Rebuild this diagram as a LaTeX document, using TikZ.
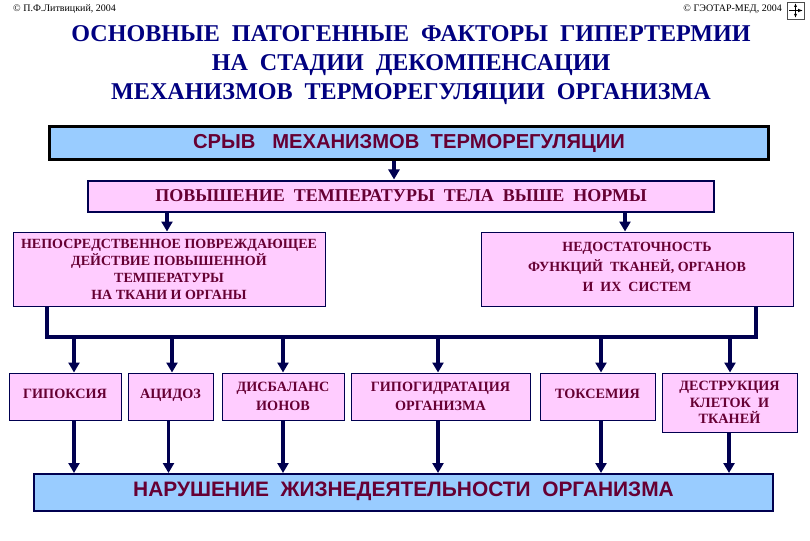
\documentclass[tikz,border=0pt]{standalone}
\usepackage{fontspec}
\setmainfont{Liberation Serif}
\setsansfont{Liberation Sans}
\usetikzlibrary{arrows.meta}
\definecolor{titlecol}{HTML}{000080}
\definecolor{textcol}{HTML}{660033}
\definecolor{linecol}{HTML}{000050}
\definecolor{pinkfill}{HTML}{FFCCFF}
\definecolor{bluefill}{HTML}{99CCFF}
\tikzset{
  titletext/.style = {text=titlecol, font=\fontsize{24.1}{29}\selectfont\bfseries, align=center},
  creditnode/.style = {font=\fontsize{10}{12}\selectfont, inner sep=0pt},
  boxnode/.style = {draw=linecol, line width=1pt, fill=pinkfill, text=textcol,
    font=\fontsize{14.2}{18.5}\selectfont\bfseries, align=center, inner sep=0pt,
    minimum width=#1, minimum height=47pt},
  onelinenode/.style = {text height=9.5pt, text depth=6pt},
  bignode/.style = {fill=bluefill, text=textcol, font=\sffamily\bfseries, align=center,
    inner sep=0pt},
  feed/.style = {line width=3.5pt, draw=linecol, -{Triangle[length=10pt, width=11pt]}},
  bus/.style = {line width=4pt, draw=linecol, line join=miter},
}
\begin{document}
\begin{tikzpicture}[
    x = 1pt,
    y = -1pt,
    ]
    \useasboundingbox (0,0) rectangle (810,540);
    % credits
    \node[creditnode, anchor=west] (author) at (13,9.5) {© П.Ф.Литвицкий, 2004};
    \node[creditnode, anchor=east] (publisher) at (782,9.5) {© ГЭОТАР-МЕД, 2004};
    % nav icon
    \draw[line width=0.6pt, draw=black!70] (787,2) rectangle (804,19);
    \draw[line width=1pt, -{Latex[length=5pt]}] (789,10.5) -- (803,10.5);
    \draw[line width=0.8pt, <->, >={Latex[length=4pt]}] (795.5,3) -- (795.5,18);
    % title
    \node[titletext] (title) at (411,65.5)
    {ОСНОВНЫЕ\ \ ПАТОГЕННЫЕ\ \ ФАКТОРЫ\ \ ГИПЕРТЕРМИИ\\
      НА\ \ СТАДИИ\ \ ДЕКОМПЕНСАЦИИ\\
      МЕХАНИЗМОВ\ \ ТЕРМОРЕГУЛЯЦИИ\ \ ОРГАНИЗМА};
    % upper blocks
    \node[bignode, draw=black, line width=3pt, minimum width=719pt, minimum height=33pt,
      font=\sffamily\bfseries\fontsize{20.2}{24}\selectfont] (failure) at (409,143.5)
    {СРЫВ\ \ \ МЕХАНИЗМОВ\ \ ТЕРМОРЕГУЛЯЦИИ};
    \node[boxnode=626pt, line width=2pt, minimum height=31pt, font=\fontsize{18}{20}\selectfont\bfseries]
    (fever) at (401,196) {ПОВЫШЕНИЕ\ \ ТЕМПЕРАТУРЫ\ \ ТЕЛА\ \ ВЫШЕ\ \ НОРМЫ};
    \node[boxnode=312pt, minimum height=74pt, font=\fontsize{14}{17}\selectfont\bfseries]
    (direct) at (169,269)
    {НЕПОСРЕДСТВЕННОЕ ПОВРЕЖДАЮЩЕЕ\\ ДЕЙСТВИЕ ПОВЫШЕННОЙ\\ ТЕМПЕРАТУРЫ\\ НА ТКАНИ И ОРГАНЫ};
    \node[boxnode=312pt, minimum height=74pt, text depth=4pt, font=\fontsize{14}{20}\selectfont\bfseries]
    (deficit) at (637,269)
    {НЕДОСТАТОЧНОСТЬ\\ ФУНКЦИЙ\ \ ТКАНЕЙ, ОРГАНОВ\\ И\ \ ИХ\ \ СИСТЕМ};
    % small blocks
    \node[boxnode=112pt, onelinenode] (hypoxia) at (65,396.5) {ГИПОКСИЯ};
    \node[boxnode=85pt, onelinenode] (acidosis) at (170.5,396.5) {АЦИДОЗ};
    \node[boxnode=122pt] (ions) at (283,396.5) {ДИСБАЛАНС\\ ИОНОВ};
    \node[boxnode=179pt] (hypohyd) at (440.5,396.5) {ГИПОГИДРАТАЦИЯ\\ ОРГАНИЗМА};
    \node[boxnode=115pt, onelinenode] (toxemia) at (597.5,396.5) {ТОКСЕМИЯ};
    \node[boxnode=135pt, minimum height=59pt, font=\fontsize{14.2}{16.5}\selectfont\bfseries]
    (destruct) at (729.5,402.5) {ДЕСТРУКЦИЯ\\ КЛЕТОК\ \ И\\ ТКАНЕЙ};
    % bottom block
    \node[bignode, draw=linecol, line width=2pt, minimum width=739pt, minimum height=37pt,
      text height=14pt, text depth=7pt, font=\sffamily\bfseries\fontsize{20.9}{24}\selectfont]
    (vital) at (403.5,492.5) {НАРУШЕНИЕ\ \ ЖИЗНЕДЕЯТЕЛЬНОСТИ\ \ ОРГАНИЗМА};
    % bus
    \coordinate (busl) at (47,336.5);
    \coordinate (busr) at (756,336.5);
    \draw[bus] (busl |- direct.south) -- (busl) -- (busr) -- (busr |- deficit.south);
    % arrows
    \draw[feed] (failure.south -| 394,0) -- (fever.north -| 394,0);
    \draw[feed] (fever.south -| 167,0) -- (direct.north -| 167,0);
    \draw[feed] (fever.south -| 625,0) -- (deficit.north -| 625,0);
    \foreach \x/\y in {74/hypoxia, 172/acidosis, 283/ions, 438/hypohyd, 601/toxemia, 730/destruct}
    \draw[feed] (\x,336.5) -- (\y.north -| \x,0);
    \foreach \x/\y in {74/hypoxia, 168.5/acidosis, 283/ions, 438/hypohyd, 601/toxemia, 729/destruct}
    \draw[feed] (\y.south -| \x,0) -- (vital.north -| \x,0);
  \end{tikzpicture}
\end{document}
